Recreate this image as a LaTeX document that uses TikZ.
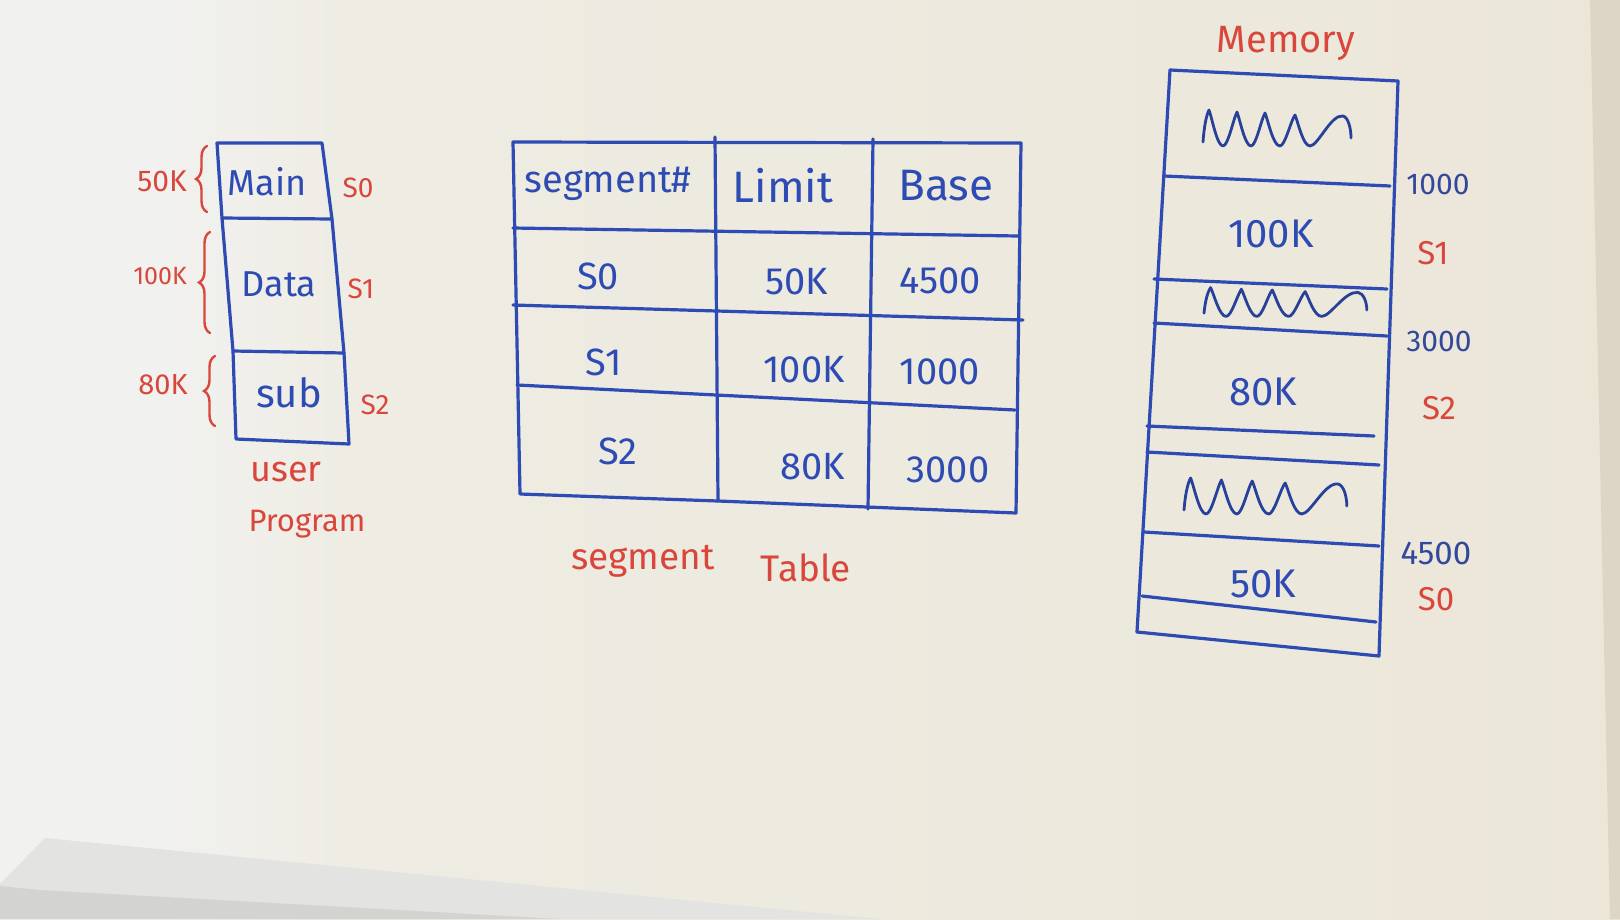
\documentclass[tikz,border=0pt]{standalone}
\usepackage{fontspec}
\setmainfont{Fira Sans}
\usetikzlibrary{decorations.pathreplacing}
\definecolor{ink}{HTML}{2E4BB4}
\definecolor{inkdark}{HTML}{32489A}
\definecolor{redink}{HTML}{D9463B}
\definecolor{boardL}{HTML}{F1F1EF}
\definecolor{boardM}{HTML}{EEECE3}
\definecolor{boardR}{HTML}{E8E0CC}
\definecolor{frame}{HTML}{DDD6C6}
\definecolor{paperA}{HTML}{E3E3E1}
\definecolor{paperB}{HTML}{D3D3D1}
\pgfdeclarehorizontalshading{board}{100bp}{%
  color(0bp)=(boardL); color(30bp)=(boardL); color(36bp)=(boardM);
  color(70bp)=(boardM!60!boardR); color(100bp)=(boardR)}
\newcommand{\fs}[1]{\fontsize{#1}{#1}\selectfont}
\tikzset{
  pen/.style={draw=ink, line width=3.2pt, line cap=round, line join=round},
  btxt/.style={text=ink, inner sep=0pt},
  rtxt/.style={text=redink, inner sep=0pt},
  mtxt/.style={text=inkdark, inner sep=0pt},
  redbrace/.style={draw=redink, line width=2.4pt, line cap=round,
    decorate, decoration={brace, amplitude=11pt}},
  % free-hand scribble marking an unused block
  squig/.pic={
    \draw[draw=ink!85!black, line width=2.8pt, line cap=round, line join=round]
      (0,14) .. controls (1,0) and (3,-12) .. (6,-18)
      .. controls (9,-10) and (14,18) .. (20,18)
      .. controls (25,18) and (30,-8) .. (34,-16)
      .. controls (37,-8) and (42,18) .. (48,18)
      .. controls (53,18) and (58,-8) .. (62,-15)
      .. controls (65,-8) and (70,18) .. (77,18)
      .. controls (82,18) and (88,-8) .. (92,-13)
      .. controls (95,-6) and (100,18) .. (107,18)
      .. controls (115,18) and (128,-14) .. (140,-12)
      .. controls (145,-11) and (148,0) .. (148,10);
  }
}
\begin{document}
\begin{tikzpicture}[x=1pt, y=-1pt]
% board
\useasboundingbox (0,0) rectangle (1620,919);
\shade[shading=board] (0,0) rectangle (1620,919);
\fill[frame] (1590,0) -- (1620,0) -- (1620,919) -- (1610,919) -- cycle;
\fill[paperA] (45,838) -- (880,919) -- (0,919) -- (0,884) -- cycle;
\fill[paperB] (0,886) -- (40,890) -- (560,919) -- (0,919) -- cycle;

% ---------- user program ----------
\draw[pen] (217,143) -- (322,143) -- (332,219) -- (344,353) -- (349,444)
  -- (236,439) -- (233,351) -- (222,218) -- cycle;
\draw[pen] (222,218) -- (332,219);
\draw[pen] (233,351) -- (344,353);
\node[btxt, font=\fs{36}] (pmain) at (267,182) {Main};
\node[btxt, font=\fs{36}] (pdata) at (279,284) {Data};
\node[btxt, font=\fs{40}] (psub)  at (289,393) {sub};
\node[rtxt, font=\fs{28}] (ps0) at (358,188) {S0};
\node[rtxt, font=\fs{28}] (ps1) at (361,289) {S1};
\node[rtxt, font=\fs{28}] (ps2) at (375,405) {S2};
\draw[redbrace] (207,212) -- (207,146);
\draw[redbrace] (210,333) -- (210,232);
\draw[redbrace] (215,426) -- (215,356);
\node[rtxt, font=\fs{30}] (k50)  at (162,181) {50K};
\node[rtxt, font=\fs{25}] (k100) at (160,276) {100K};
\node[rtxt, font=\fs{29}] (k80)  at (163,385) {80K};
\node[rtxt, font=\fs{36}] (puser) at (286,472) {user};
\node[rtxt, font=\fs{31}] (pprog) at (307,524) {Program};

% ---------- segment table ----------
\draw[pen] (513,142) -- (1021,143) -- (1016,513) -- (718,501) -- (520,494) -- cycle;
\draw[pen] (715,137) -- (718,501);
\draw[pen] (873,139) -- (868,509);
\draw[pen] (513,228) -- (1018,236);
\draw[pen] (513,305) -- (1023,320);
\draw[pen] (517,385) -- (1015,410);
\node[btxt, font=\fs{38}] (hseg)  at (608,184) {segment\#};
\node[btxt, font=\fs{44}] (hlim)  at (783,186) {Limit};
\node[btxt, font=\fs{44}] (hbase) at (946,186) {Base};
\node[btxt, font=\fs{38}] (t00) at (598,276) {S0};
\node[btxt, font=\fs{38}] (t01) at (797,282) {50K};
\node[btxt, font=\fs{38}] (t02) at (940,281) {4500};
\node[btxt, font=\fs{38}] (t10) at (604,362) {S1};
\node[btxt, font=\fs{38}] (t11) at (804,370) {100K};
\node[btxt, font=\fs{38}] (t12) at (940,372) {1000};
\node[btxt, font=\fs{38}] (t20) at (618,451) {S2};
\node[btxt, font=\fs{38}] (t21) at (813,467) {80K};
\node[btxt, font=\fs{38}] (t22) at (948,470) {3000};
\node[rtxt, font=\fs{37}] (tcap1) at (643,561) {segment};
\node[rtxt, font=\fs{37}] (tcap2) at (806,568) {Table};

% ---------- memory ----------
\node[rtxt, font=\fs{38}] (mtitle) at (1286,43) {Memory};
\draw[pen] (1170,70) -- (1398,81);
\draw[pen] (1170,70) -- (1137,632);
\draw[pen] (1398,81) -- (1379,656);
\draw[pen] (1137,632) -- (1379,656);
\draw[pen] (1164,176) -- (1390,186);
\draw[pen] (1154,279) -- (1387,289);
\draw[pen] (1154,323) -- (1387,336);
\draw[pen] (1147,426) -- (1374,436);
\draw[pen] (1147,452) -- (1379,465);
\draw[pen] (1144,532) -- (1379,546);
\draw[pen] (1142,596) -- (1376,622);
\pic at (1203,128) {squig};
\pic[xscale=1.1, yscale=0.8] at (1204,302) {squig};
\pic[xscale=1.1] at (1184,496) {squig};
\node[btxt, font=\fs{40}] (m100) at (1271,234) {100K};
\node[btxt, font=\fs{40}] (m80)  at (1263,392) {80K};
\node[btxt, font=\fs{40}] (m50)  at (1263,584) {50K};
\node[mtxt, font=\fs{30}] (a1000) at (1438,184) {1000};
\node[rtxt, font=\fs{33}] (as1)   at (1433,253) {S1};
\node[mtxt, font=\fs{30}] (a3000) at (1439,341) {3000};
\node[rtxt, font=\fs{33}] (as2)   at (1439,408) {S2};
\node[mtxt, font=\fs{33}] (a4500) at (1436,553) {4500};
\node[rtxt, font=\fs{33}] (as0)   at (1436,599) {S0};
\end{tikzpicture}
\end{document}
